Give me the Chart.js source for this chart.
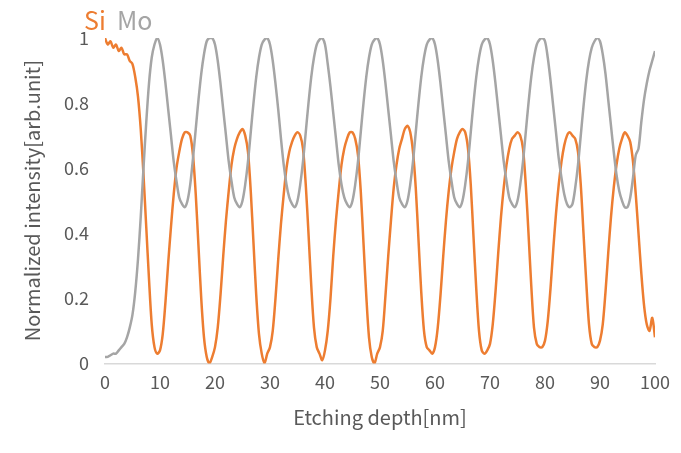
<!DOCTYPE html>
<html><head><meta charset="utf-8">
<script src="https://cdn.jsdelivr.net/npm/chart.js@4"></script>
<style>
body{margin:0;background:#fff;font-family:"Noto Sans CJK JP",sans-serif;}
#wrap{position:relative;width:681px;height:453px;}
#leg{position:absolute;left:84px;top:4px;font-size:25px;line-height:30px;}
</style></head><body>
<div id="wrap"><canvas id="c" width="681" height="453"></canvas>
<div id="leg"><span style="color:#ED7D31">Si</span>&nbsp;&nbsp;<span style="color:#A5A5A5">Mo</span></div></div>
<script>
const xTicks=[0,10,20,30,40,50,60,70,80,90,100];
const yTicks=[0,0.2,0.4,0.6,0.8,1];
const siValues=[
1.0,0.98,0.99,0.97,0.98,0.96,0.97,0.95,0.95,0.93,0.92,0.88,0.82,0.72,0.58,0.42,0.26,0.12,0.05,
0.03,0.04,0.09,0.19,0.31,0.42,0.52,0.60,0.65,0.69,0.71,0.71,0.70,0.64,0.52,0.36,0.20,0.08,0.02,0.0,
0.02,0.05,0.11,0.21,0.33,0.44,0.53,0.61,0.66,0.69,0.71,0.72,0.70,0.65,0.53,0.37,0.21,0.09,0.03,0.0,
0.03,0.05,0.10,0.20,0.32,0.43,0.52,0.60,0.65,0.68,0.70,0.71,0.70,0.66,0.55,0.40,0.24,0.11,0.05,0.03,
0.01,0.04,0.10,0.20,0.33,0.44,0.53,0.61,0.66,0.69,0.71,0.71,0.69,0.64,0.53,0.37,0.21,0.08,0.02,0.0,
0.03,0.05,0.10,0.21,0.33,0.44,0.54,0.61,0.66,0.69,0.72,0.73,0.71,0.65,0.54,0.38,0.22,0.10,0.05,0.04,
0.03,0.05,0.11,0.21,0.33,0.44,0.53,0.60,0.65,0.69,0.71,0.72,0.71,0.66,0.55,0.39,0.23,0.10,0.04,0.03,
0.04,0.06,0.12,0.22,0.34,0.45,0.54,0.61,0.66,0.69,0.70,0.71,0.70,0.66,0.55,0.40,0.24,0.11,0.06,0.05,
0.05,0.07,0.13,0.23,0.35,0.46,0.55,0.62,0.67,0.70,0.71,0.70,0.69,0.65,0.55,0.40,0.25,0.12,0.06,0.05,
0.05,0.07,0.12,0.22,0.34,0.45,0.54,0.61,0.66,0.69,0.71,0.70,0.68,0.62,0.52,0.40,0.28,0.18,0.12,0.10,
0.14,0.08];
const moValues=[
0.02,0.02,0.025,0.03,0.03,0.04,0.05,0.06,0.08,0.11,0.15,0.22,0.32,0.45,0.60,0.74,0.86,0.94,0.98,
1.0,0.98,0.93,0.86,0.78,0.70,0.62,0.56,0.51,0.49,0.48,0.50,0.55,0.63,0.72,0.81,0.89,0.95,0.99,1.0,
1.0,0.98,0.93,0.86,0.78,0.70,0.62,0.56,0.51,0.49,0.48,0.50,0.55,0.62,0.71,0.80,0.88,0.94,0.98,0.995,
1.0,0.98,0.93,0.86,0.78,0.69,0.61,0.55,0.51,0.49,0.48,0.50,0.55,0.62,0.71,0.80,0.88,0.94,0.98,0.995,
1.0,0.98,0.92,0.85,0.77,0.69,0.61,0.55,0.51,0.49,0.48,0.50,0.55,0.62,0.71,0.80,0.88,0.94,0.98,0.995,
1.0,0.98,0.93,0.86,0.78,0.70,0.62,0.56,0.51,0.49,0.48,0.50,0.55,0.62,0.71,0.80,0.88,0.94,0.98,0.995,
1.0,0.98,0.93,0.86,0.78,0.70,0.62,0.56,0.51,0.49,0.48,0.50,0.55,0.62,0.71,0.80,0.88,0.94,0.98,0.995,
1.0,0.98,0.93,0.86,0.78,0.70,0.62,0.56,0.51,0.49,0.48,0.50,0.55,0.62,0.71,0.80,0.88,0.94,0.98,0.995,
1.0,0.99,0.94,0.87,0.79,0.71,0.63,0.57,0.52,0.49,0.48,0.49,0.54,0.61,0.70,0.79,0.87,0.93,0.97,0.99,
1.0,0.99,0.95,0.89,0.81,0.73,0.65,0.58,0.53,0.50,0.48,0.48,0.51,0.57,0.64,0.66,0.74,0.81,0.86,0.90,
0.93,0.96];
const depth=siValues.map((_,i)=>i*0.5);
const mk=v=>v.map((y,i)=>({x:depth[i],y}));
const tickFont={family:'"Noto Sans CJK JP"',size:18};
new Chart(document.getElementById('c'),{
type:'line',
data:{datasets:[
{label:'Mo',data:mk(moValues),borderColor:'#A5A5A5',borderWidth:2.5,pointRadius:0,tension:0.3},
{label:'Si',data:mk(siValues),borderColor:'#ED7D31',borderWidth:2.5,pointRadius:0,tension:0.3}]},
options:{responsive:false,animation:false,
layout:{padding:{top:38,right:26,left:16,bottom:20}},
plugins:{legend:{display:false},tooltip:{enabled:false}},
scales:{
x:{type:'linear',min:0,max:100,afterBuildTicks:a=>{a.ticks=xTicks.map(v=>({value:v}));},
grid:{display:false,drawTicks:false},border:{color:'#D9D9D9',width:1.5},
ticks:{color:'#595959',font:tickFont,padding:8,maxRotation:0},
title:{display:true,text:'Etching depth[nm]',color:'#595959',font:{family:'"Noto Sans CJK JP"',size:20}}},
y:{min:0,max:1,afterBuildTicks:a=>{a.ticks=yTicks.map(v=>({value:v}));},
grid:{display:false,drawTicks:false},border:{display:false},
ticks:{color:'#595959',font:tickFont,padding:16,callback:v=>String(v)},
title:{display:true,text:'Normalized intensity[arb.unit]',color:'#595959',font:{family:'"Noto Sans CJK JP"',size:20}}}
}}});
</script></body></html>
